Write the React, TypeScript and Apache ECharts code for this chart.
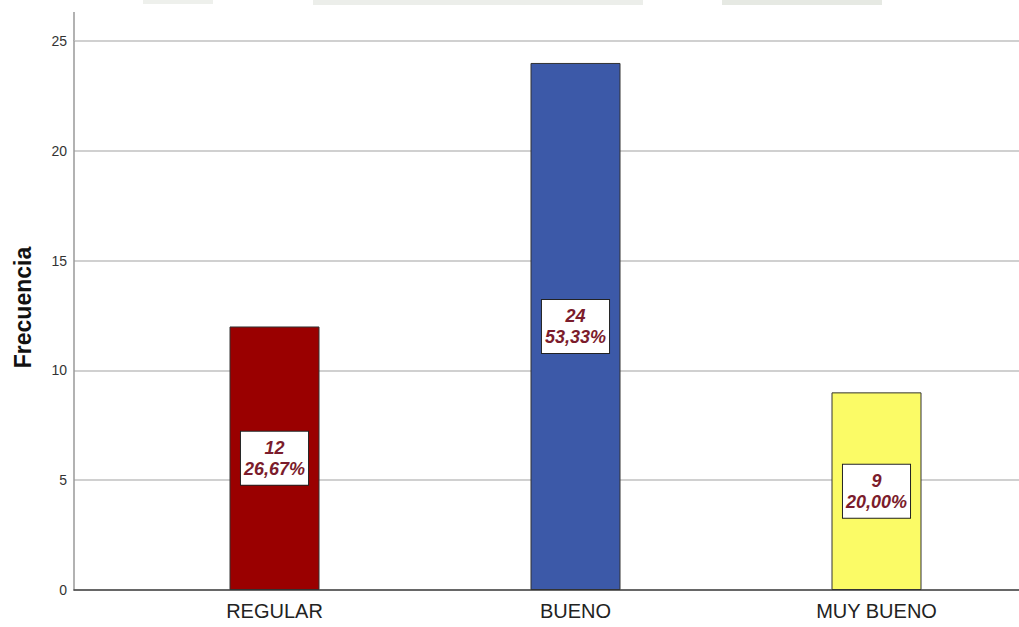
import React, { useEffect, useRef } from "react";
import * as echarts from "echarts";

const categories = ["REGULAR", "BUENO", "MUY BUENO"];
const counts = [12, 24, 9];
const percentLabels = ["26,67%", "53,33%", "20,00%"];
const barColors = ["#9a0000", "#3c59a8", "#fbfb66"];
const yTicks = { min: 0, max: 25, interval: 5 };

export default function App() {
  const ref = useRef<HTMLDivElement>(null);
  useEffect(() => {
    if (!ref.current) return;
    const chart = echarts.init(ref.current, null, { renderer: "svg" });
    const font = "'Liberation Sans', Arial, sans-serif";
    chart.setOption({
      animation: false,
      backgroundColor: "#ffffff",
      textStyle: { fontFamily: font },
      grid: [
        { left: 74, right: 21, top: 41, bottom: 37 },
        { left: 124, width: 903, top: 41, bottom: 37 },
      ],
      graphic: [
        { type: "rect", shape: { x: 143, y: 0, width: 70, height: 4 }, style: { fill: "#eef0ec" }, silent: true },
        { type: "rect", shape: { x: 313, y: 0, width: 330, height: 5 }, style: { fill: "#eceeea" }, silent: true },
        { type: "rect", shape: { x: 722, y: 0, width: 160, height: 5 }, style: { fill: "#e6e9e3" }, silent: true },
        {
          type: "line",
          shape: { x1: 74, y1: 12, x2: 74, y2: 41 },
          style: { stroke: "#999", lineWidth: 1.5 },
          silent: true,
        },
      ],
      xAxis: [
        {
          gridIndex: 0,
          type: "category",
          data: categories,
          axisLabel: { show: false },
          axisTick: { show: false },
          axisLine: { lineStyle: { color: "#444", width: 1.5 } },
        },
        {
          gridIndex: 1,
          type: "category",
          data: categories,
          axisLine: { show: false },
          axisTick: { show: false },
          axisLabel: { fontSize: 20, color: "#222", margin: 11, fontFamily: font },
        },
      ],
      yAxis: [
        {
          gridIndex: 0,
          type: "value",
          min: yTicks.min,
          max: yTicks.max,
          interval: yTicks.interval,
          name: "Frecuencia",
          nameLocation: "middle",
          nameRotate: 90,
          nameGap: 40,
          nameTextStyle: {
            fontSize: 23,
            fontWeight: "bold",
            color: "#111",
            fontFamily: font,
            padding: [0, 0, 0, 16],
          },
          axisLine: { show: true, lineStyle: { color: "#999", width: 1.5 } },
          axisTick: { show: false },
          axisLabel: { fontSize: 14, color: "#333", margin: 7, fontFamily: font },
          splitLine: { lineStyle: { color: "#d0d0d0", width: 2 } },
        },
        {
          gridIndex: 1,
          type: "value",
          min: yTicks.min,
          max: yTicks.max,
          interval: yTicks.interval,
          show: false,
          splitLine: { show: false },
        },
      ],
      series: [
        {
          type: "bar",
          xAxisIndex: 1,
          yAxisIndex: 1,
          barWidth: 90,
          data: counts.map((v, i) => ({
            value: v,
            itemStyle: { color: barColors[i], borderColor: "#333", borderWidth: 1 },
          })),
          label: {
            show: true,
            position: "inside",
            formatter: (p: any) => `${p.value}\n${percentLabels[p.dataIndex]}`,
            fontFamily: font,
            fontSize: 18,
            fontWeight: "bold",
            fontStyle: "italic",
            color: "#7b1c2c",
            lineHeight: 21,
            align: "center",
            backgroundColor: "#ffffff",
            borderColor: "#222",
            borderWidth: 1,
            padding: [6, 3, 5, 3],
          },
        },
      ],
    });
    return () => chart.dispose();
  }, []);
  return (
    <div
      style={{
        position: "absolute",
        left: 0,
        top: 0,
        width: 1019,
        height: 627,
        overflow: "hidden",
        background: "#fff",
      }}
    >
      <div ref={ref} style={{ width: 1040, height: 627 }} />
    </div>
  );
}
